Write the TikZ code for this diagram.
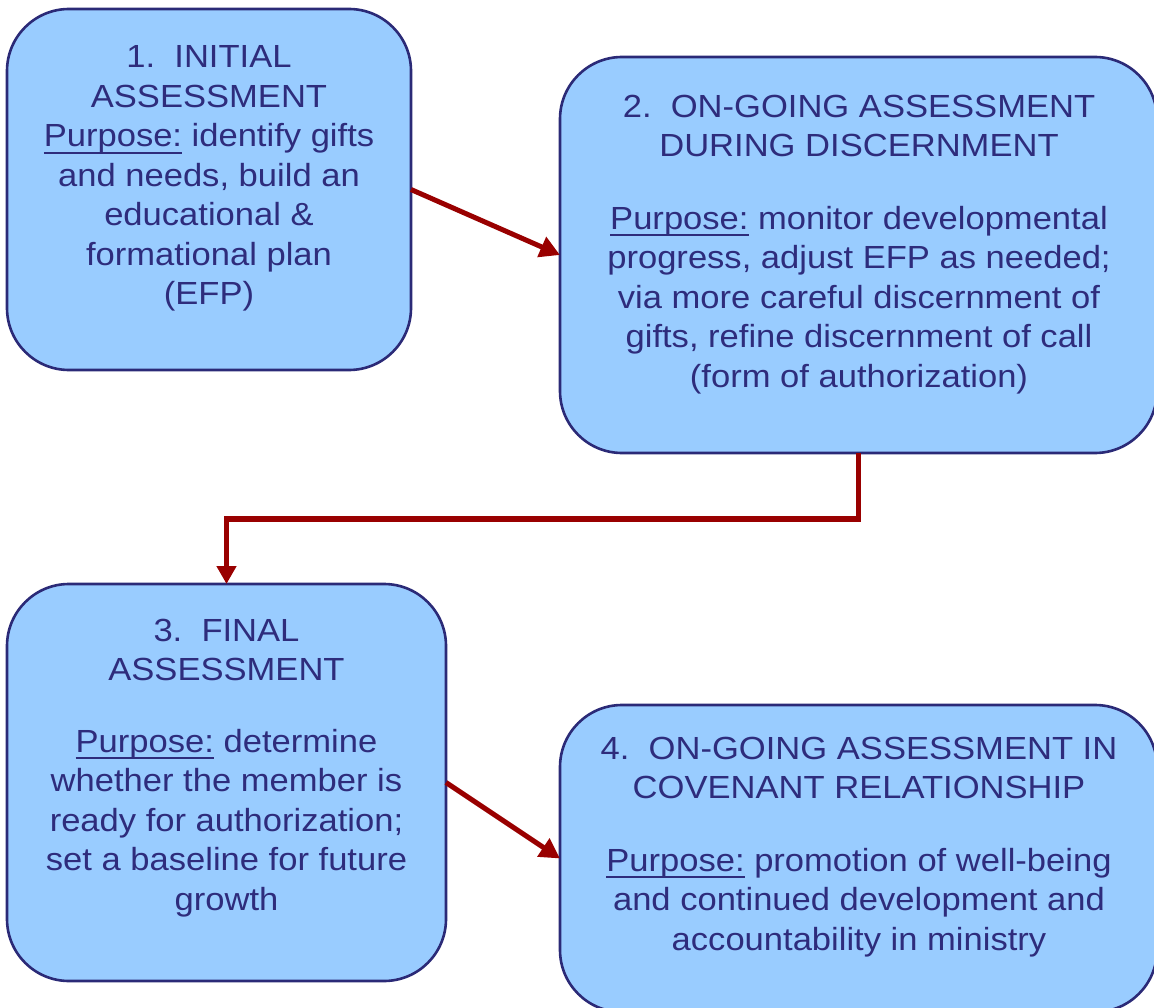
\documentclass[tikz,border=0pt]{standalone}
\usepackage{fontspec}
\setmainfont[FakeStretch=1.08]{Liberation Sans}
\usetikzlibrary{arrows.meta}
\definecolor{boxfill}{HTML}{99CCFF}
\definecolor{boxline}{HTML}{2B2A77}
\definecolor{txtcol}{HTML}{2E2C7C}
\definecolor{arrowred}{HTML}{990000}
\newcommand\ulpurpose{\setbox0\hbox{Purpose:}\rlap{\rule[-7pt]{\wd0}{2pt}}\box0}
\tikzset{
  stagebox/.style={draw=boxline, fill=boxfill, line width=2.6pt, rounded corners=62pt,
    inner sep=0pt, outer sep=0pt},
  stagetext/.style={text=txtcol, align=center, anchor=base, inner sep=0pt,
    font=\fontsize{32}{39.5}\selectfont},
  flowarrow/.style={draw=arrowred, line width=5pt, -{Triangle[length=20pt,width=21pt]}},
  elbowarrow/.style={draw=arrowred, line width=5.5pt, -{Triangle[length=18pt,width=19pt]}},
}
\begin{document}
\begin{tikzpicture}[x=1pt,y=-1pt]
\useasboundingbox (0,0) rectangle (1154,1008);
\clip (0,0) rectangle (1154,1008);

\node[stagebox, minimum width=404pt, minimum height=361pt] (b1) at (209,189.5) {};
\node[stagebox, minimum width=597pt, minimum height=396pt] (b2) at (858.5,255) {};
\node[stagebox, minimum width=439pt, minimum height=397pt] (b3) at (226.5,782.5) {};
\node[stagebox, minimum width=597pt, minimum height=307pt] (b4) at (858.5,858.5) {};

\node[stagetext] (t1) at (209,305) {1.\ \ INITIAL\\ASSESSMENT\\\ulpurpose{} identify gifts\\and needs, build an\\educational \&\\formational plan\\(EFP)};

\node[stagetext] (t2) at (859,387) {2.\ \ ON-GOING ASSESSMENT\\DURING DISCERNMENT\\[33pt]\ulpurpose{} monitor developmental\\progress, adjust EFP as needed;\\via more careful discernment of\\gifts, refine discernment of call\\(form of authorization)};

\node[stagetext] (t3) at (226.5,910) {3.\ \ FINAL\\ASSESSMENT\\[32pt]\ulpurpose{} determine\\whether the member is\\ready for authorization;\\set a baseline for future\\growth};

\node[stagetext] (t4) at (859,950) {4.\ \ ON-GOING ASSESSMENT IN\\COVENANT RELATIONSHIP\\[33pt]\ulpurpose{} promotion of well-being\\and continued development and\\accountability in ministry};

\draw[flowarrow] (b1.east) -- (b2.west);
\draw[elbowarrow] (b2.south) -- ++(0,66) -| (b3.north);
\draw[flowarrow] (b3.east) -- (b4.west);
\end{tikzpicture}
\end{document}
